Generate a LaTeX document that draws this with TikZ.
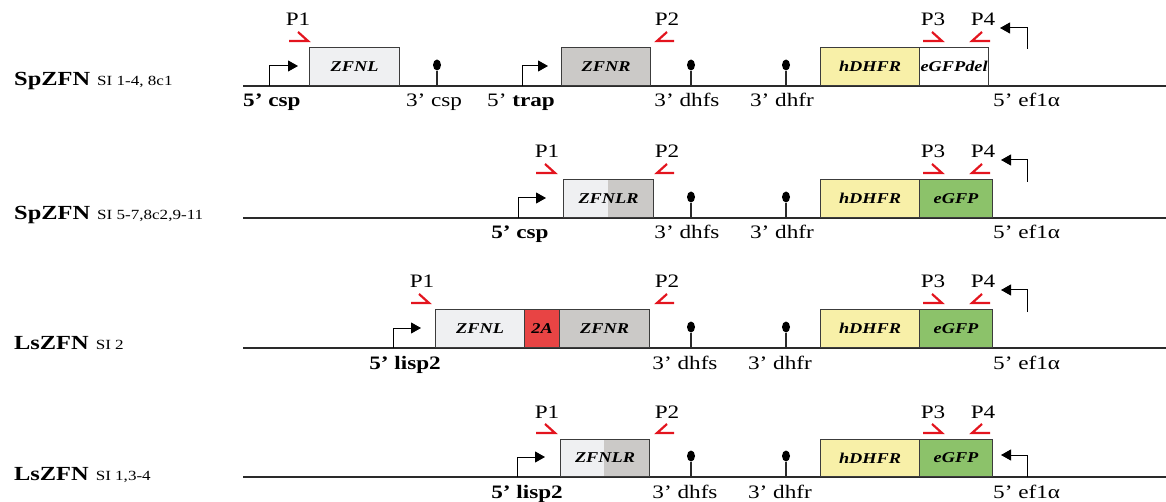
\documentclass[tikz,border=0pt]{standalone}
\usepackage{fontspec}
\setmainfont{Liberation Serif}[FakeStretch=1.22]
\usetikzlibrary{arrows.meta,shapes.geometric}

\definecolor{linec}{HTML}{2A2A2A}
\definecolor{boxc}{HTML}{3C3C3C}
\definecolor{zfnlc}{HTML}{EFF0F2}
\definecolor{zfnrc}{HTML}{CBC9C7}
\definecolor{dhfrc}{HTML}{F8F0A8}
\definecolor{gfpc}{HTML}{8CC26A}
\definecolor{twoac}{HTML}{E84444}
\definecolor{primerc}{HTML}{E3141E}

\newcommand\lblfont{\fontsize{19}{19}\selectfont}
\newcommand\genefont{\fontsize{15}{15}\selectfont\bfseries\itshape}
\newcommand\namefont{\fontsize{20}{20}\selectfont\bfseries}
\newcommand\sifont{\fontsize{14}{14}\selectfont}
\newcommand\rowlabel[2]{{\namefont #1}\hspace{7pt}{\sifont #2}}

\tikzset{
  chrom/.style={draw=linec, line width=1.4pt},
  gene/.style={draw=boxc, line width=1.1pt, inner sep=0pt, minimum height=38pt,
               anchor=south west, font=\genefont},
  prom/.style={draw=black, line width=1pt, -{Triangle[length=10pt,width=11pt]}},
  stem/.style={draw=linec, line width=1.2pt},
  lolli/.style={ellipse, fill=black, draw=none, inner sep=0pt,
                minimum width=8pt, minimum height=11pt},
  primer/.style={draw=primerc, line width=2.2pt},
  plabel/.style={font=\lblfont, anchor=base, inner sep=0pt},
  blabel/.style={font=\lblfont, anchor=base, inner sep=0pt},
  rowname/.style={anchor=base west, inner sep=0pt},
}

\begin{document}
\begin{tikzpicture}[x=1pt, y=-1pt]
\useasboundingbox (0,0) rectangle (1166,502);

% ---------------- SpZFN SI 1-4, 8c1 ----------------
\node[rowname] (namea) at (14,86) {\rowlabel{SpZFN}{SI 1-4, 8c1}};
\begin{scope}[shift={(0,86)}]
  \coordinate (La) at (243,0); \coordinate (Ra) at (1166,0);
  \draw[chrom] (La) -- (Ra);
  % promoters
  \coordinate (pa1) at (269,0); \coordinate (ta1) at (298,-20);
  \draw[prom] (pa1) |- (ta1);
  \coordinate (pa2) at (522,0); \coordinate (ta2) at (548,-20);
  \draw[prom] (pa2) |- (ta2);
  \coordinate (pa3) at (1027,-37); \coordinate (ta3) at (1000,-58);
  \draw[prom] (pa3) |- (ta3);
  % genes
  \node[gene, fill=zfnlc, minimum width=90pt] (zfnla) at (309,0) {ZFNL};
  \node[gene, fill=zfnrc, minimum width=89pt] (zfnra) at (561,0) {ZFNR};
  \node[gene, fill=dhfrc, minimum width=99pt] (dhfra) at (820,0) {hDHFR};
  \node[gene, fill=white, minimum width=69pt] (gfpa) at (919,0) {eGFPdel};
  % terminators
  \node[lolli] (ta) at (437,-21) {}; \draw[stem] (ta.south) -- (ta.south |- La);
  \node[lolli] (tb) at (691,-21) {}; \draw[stem] (tb.south) -- (tb.south |- La);
  \node[lolli] (tc) at (786,-21) {}; \draw[stem] (tc.south) -- (tc.south |- La);
  % primers
  \draw[primer] (289,-45) -- (308,-45) -- (298,-54);
  \draw[primer] (674,-45) -- (657,-45) -- (667,-54);
  \draw[primer] (923,-45) -- (942,-45) -- (932,-54);
  \draw[primer] (990,-45) -- (972,-45) -- (982,-54);
  \node[plabel] (p1a) at (298,-60) {P1};
  \node[plabel] (p2a) at (667,-60) {P2};
  \node[plabel] (p3a) at (933,-60) {P3};
  \node[plabel] (p4a) at (983,-60) {P4};
  % locus labels
  \node[blabel, anchor=base west] (la1) at (243,21) {\bfseries 5’ csp};
  \node[blabel] (la2) at (434,21) {3’ csp};
  \node[blabel] (la3) at (521,21) {5’ \textbf{trap}};
  \node[blabel] (la4) at (687,21) {3’ dhfs};
  \node[blabel] (la5) at (782,21) {3’ dhfr};
  \node[blabel, anchor=base west] (la6) at (993,21) {5’ ef1α};
\end{scope}

% ---------------- SpZFN SI 5-7,8c2,9-11 ----------------
\node[rowname] (nameb) at (14,220) {\rowlabel{SpZFN}{SI 5-7,8c2,9-11}};
\begin{scope}[shift={(0,218)}]
  \coordinate (Lb) at (243,0); \coordinate (Rb) at (1166,0);
  \draw[chrom] (Lb) -- (Rb);
  \coordinate (pb1) at (518,0); \coordinate (tb1) at (546,-20);
  \draw[prom] (pb1) |- (tb1);
  \coordinate (pb3) at (1027,-36); \coordinate (tb3) at (1001,-58);
  \draw[prom] (pb3) |- (tb3);
  \fill[zfnlc] (563,0) rectangle (608,-38);
  \fill[zfnrc] (608,0) rectangle (653,-38);
  \node[gene, minimum width=90pt] (zfnlrb) at (563,0) {ZFNLR};
  \node[gene, fill=dhfrc, minimum width=99pt] (dhfrb) at (820,0) {hDHFR};
  \node[gene, fill=gfpc, minimum width=73pt] (gfpb) at (919,0) {eGFP};
  \node[lolli] (tbb) at (691,-21) {}; \draw[stem] (tbb.south) -- (tbb.south |- Lb);
  \node[lolli] (tbc) at (786,-21) {}; \draw[stem] (tbc.south) -- (tbc.south |- Lb);
  \draw[primer] (536,-45) -- (555,-45) -- (545,-54);
  \draw[primer] (674,-45) -- (657,-45) -- (667,-54);
  \draw[primer] (923,-45) -- (942,-45) -- (932,-54);
  \draw[primer] (990,-45) -- (972,-45) -- (982,-54);
  \node[plabel] (p1b) at (547,-60) {P1};
  \node[plabel] (p2b) at (667,-60) {P2};
  \node[plabel] (p3b) at (933,-60) {P3};
  \node[plabel] (p4b) at (983,-60) {P4};
  \node[blabel] (lb1) at (520,21) {\bfseries 5’ csp};
  \node[blabel] (lb4) at (687,21) {3’ dhfs};
  \node[blabel] (lb5) at (782,21) {3’ dhfr};
  \node[blabel, anchor=base west] (lb6) at (993,21) {5’ ef1α};
\end{scope}

% ---------------- LsZFN SI 2 ----------------
\node[rowname] (namec) at (14,349) {\rowlabel{LsZFN}{SI 2}};
\begin{scope}[shift={(0,348)}]
  \coordinate (Lc) at (243,0); \coordinate (Rc) at (1166,0);
  \draw[chrom] (Lc) -- (Rc);
  \coordinate (pc1) at (393,0); \coordinate (tc1) at (421,-20);
  \draw[prom] (pc1) |- (tc1);
  \coordinate (pc3) at (1027,-36); \coordinate (tc3) at (1001,-58);
  \draw[prom] (pc3) |- (tc3);
  \node[gene, fill=zfnlc, minimum width=89pt] (zfnlc) at (435,0) {ZFNL};
  \node[gene, fill=twoac, minimum width=35pt] (twoa) at (524,0) {2A};
  \node[gene, fill=zfnrc, minimum width=90pt] (zfnrc) at (559,0) {ZFNR};
  \node[gene, fill=dhfrc, minimum width=99pt] (dhfrc) at (820,0) {hDHFR};
  \node[gene, fill=gfpc, minimum width=73pt] (gfpc) at (919,0) {eGFP};
  \node[lolli] (tcb) at (691,-21) {}; \draw[stem] (tcb.south) -- (tcb.south |- Lc);
  \node[lolli] (tcc) at (786,-21) {}; \draw[stem] (tcc.south) -- (tcc.south |- Lc);
  \draw[primer] (411,-45) -- (429,-45) -- (419,-54);
  \draw[primer] (674,-45) -- (657,-45) -- (667,-54);
  \draw[primer] (923,-45) -- (942,-45) -- (932,-54);
  \draw[primer] (990,-45) -- (972,-45) -- (982,-54);
  \node[plabel] (p1c) at (422,-60) {P1};
  \node[plabel] (p2c) at (667,-60) {P2};
  \node[plabel] (p3c) at (933,-60) {P3};
  \node[plabel] (p4c) at (983,-60) {P4};
  \node[blabel] (lc1) at (405,21) {\bfseries 5’ lisp2};
  \node[blabel] (lc4) at (685,21) {3’ dhfs};
  \node[blabel] (lc5) at (780,21) {3’ dhfr};
  \node[blabel, anchor=base west] (lc6) at (993,21) {5’ ef1α};
\end{scope}

% ---------------- LsZFN SI 1,3-4 ----------------
\node[rowname] (named) at (14,480) {\rowlabel{LsZFN}{SI 1,3-4}};
\begin{scope}[shift={(0,477)}]
  \coordinate (Ld) at (243,0); \coordinate (Rd) at (1166,0);
  \draw[chrom] (Ld) -- (Rd);
  \coordinate (pd1) at (517,0); \coordinate (td1) at (545,-20);
  \draw[prom] (pd1) |- (td1);
  \coordinate (pd3) at (1027,0); \coordinate (td3) at (1001,-22);
  \draw[prom] (pd3) |- (td3);
  \fill[zfnlc] (560,0) rectangle (604,-37);
  \fill[zfnrc] (604,0) rectangle (649,-37);
  \node[gene, minimum width=89pt, minimum height=37pt] (zfnlrd) at (560,0) {ZFNLR};
  \node[gene, fill=dhfrc, minimum width=99pt, minimum height=37pt] (dhfrd) at (820,0) {hDHFR};
  \node[gene, fill=gfpc, minimum width=73pt, minimum height=37pt] (gfpd) at (919,0) {eGFP};
  \node[lolli] (tdb) at (691,-21) {}; \draw[stem] (tdb.south) -- (tdb.south |- Ld);
  \node[lolli] (tdc) at (786,-21) {}; \draw[stem] (tdc.south) -- (tdc.south |- Ld);
  \draw[primer] (536,-44) -- (555,-44) -- (545,-53);
  \draw[primer] (674,-44) -- (657,-44) -- (667,-53);
  \draw[primer] (923,-44) -- (942,-44) -- (932,-53);
  \draw[primer] (990,-44) -- (972,-44) -- (982,-53);
  \node[plabel] (p1d) at (547,-59) {P1};
  \node[plabel] (p2d) at (667,-59) {P2};
  \node[plabel] (p3d) at (933,-59) {P3};
  \node[plabel] (p4d) at (983,-59) {P4};
  \node[blabel] (ld1) at (527,21) {\bfseries 5’ lisp2};
  \node[blabel] (ld4) at (685,21) {3’ dhfs};
  \node[blabel] (ld5) at (780,21) {3’ dhfr};
  \node[blabel, anchor=base west] (ld6) at (993,21) {5’ ef1α};
\end{scope}
\end{tikzpicture}
\end{document}
